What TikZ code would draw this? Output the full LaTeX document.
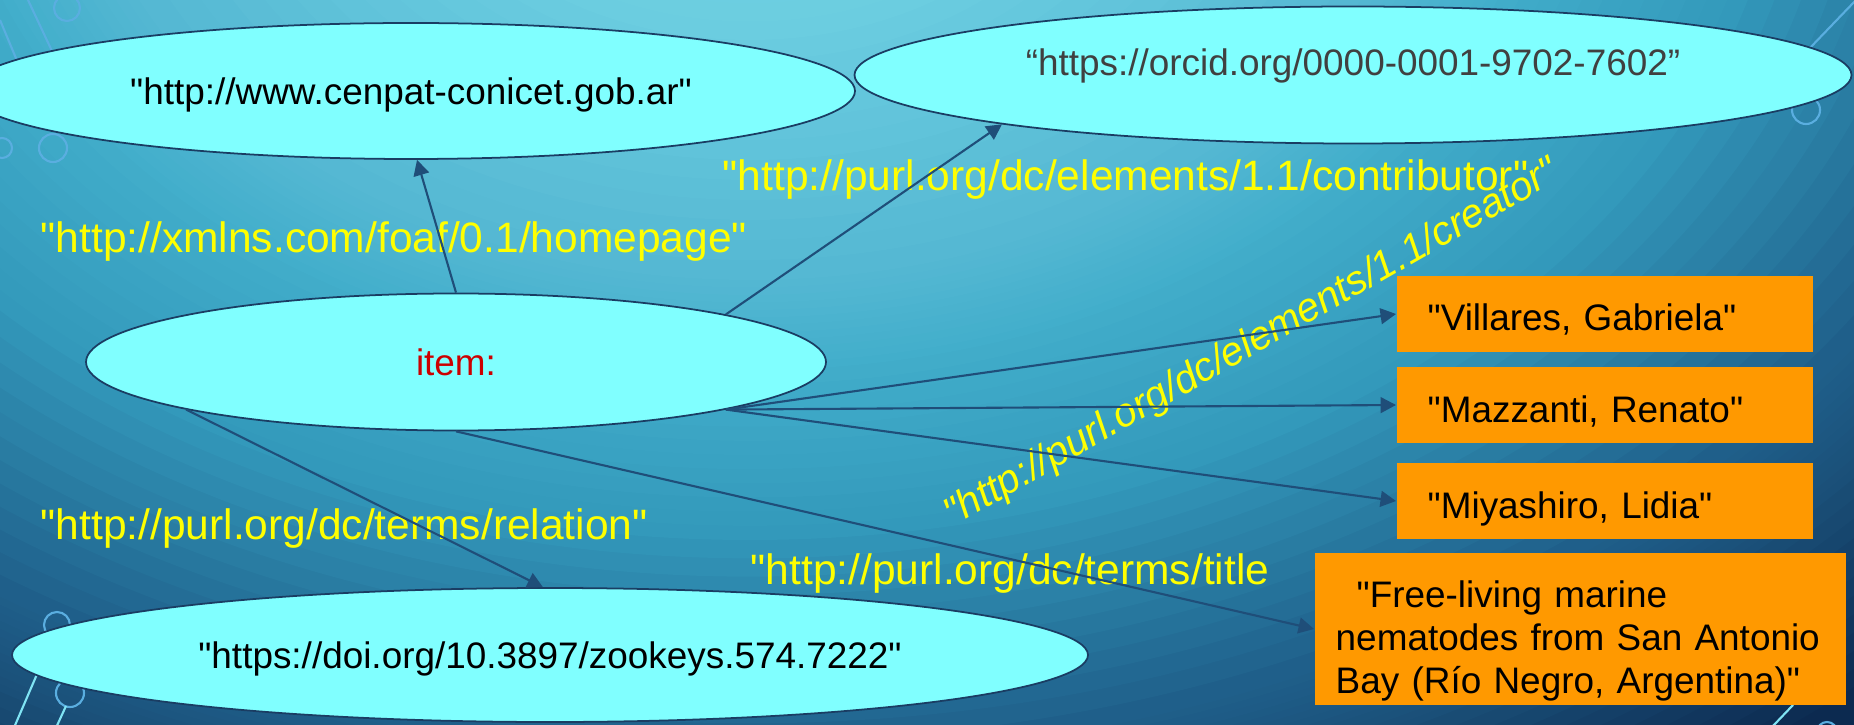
\documentclass[tikz,border=0pt]{standalone}
\usepackage{fontspec}
\setmainfont{Liberation Sans}[Ligatures=TeXOff]
\usepackage{xcolor}
\usetikzlibrary{arrows.meta,shapes.geometric}

\definecolor{nodecyan}{HTML}{80FFFF}
\definecolor{nodeorange}{HTML}{FF9900}
\definecolor{edgeblue}{HTML}{1F4E79}
\definecolor{rimblue}{HTML}{1A3D63}
\definecolor{predyellow}{HTML}{FFFF00}
\definecolor{itemred}{HTML}{CC0000}
\definecolor{orcidgray}{HTML}{404040}
\definecolor{traceblue}{HTML}{5AAEE0}
\definecolor{tracecyan}{HTML}{80E4F4}
\definecolor{bgA}{HTML}{74D4E5}
\definecolor{bgB}{HTML}{6BCDE0}
\definecolor{bgC}{HTML}{55B8D3}
\definecolor{bgD}{HTML}{42AECB}
\definecolor{bgE}{HTML}{3399BB}
\definecolor{bgF}{HTML}{1F5F8A}
\definecolor{bgG}{HTML}{1A4F78}
\definecolor{bgH}{HTML}{0C2A50}

\newcommand{\litfont}{\fontsize{10.5}{12.2}\selectfont}
\newcommand{\predfont}{\fontsize{12.1}{14}\selectfont}

\begin{document}
\begin{tikzpicture}[
    cls/.style={ellipse, draw=rimblue, line width=0.5pt, fill=nodecyan, inner sep=0pt, text height=0.31cm, text depth=0.04cm, font=\litfont},
    lit/.style={rectangle, fill=nodeorange, inner xsep=0.31cm, inner ysep=0pt, minimum height=0.76cm, text width=3.54cm, align=left, anchor=west, font=\litfont},
    namebox/.style={lit, text height=0.37cm, text depth=0.03cm},
    pred/.style={text=predyellow, font=\predfont, inner sep=0pt, anchor=base west},
    rel/.style={draw=edgeblue, line width=0.6pt, -{Triangle[length=4.4pt,width=4.5pt]}},
    trace/.style={draw=traceblue, line width=0.6pt}
  ]
            \useasboundingbox (0,0) rectangle (18.54,-7.25);

            % Slide background: glow from the top, darker towards the lower corners
            \begin{scope}
                \clip (0,0) rectangle (18.54,-7.25);
                \fill[bgH] (0,0) rectangle (18.54,-7.25);
                \foreach \ca/\cb/\ra/\rb in {bgH/bgG/1.20/1.04, bgG/bgF/1.04/0.96, bgF/bgE/0.96/0.74,
                                             bgE/bgD/0.74/0.57, bgD/bgC/0.57/0.48, bgC/bgB/0.48/0.24, bgB/bgA/0.24/0.02}
                    \foreach \k in {0,...,11} {
                        \pgfmathsetmacro{\rr}{\ra+(\rb-\ra)*\k/12}
                        \pgfmathtruncatemacro{\pp}{100*\k/12}
                        \fill[\cb!\pp!\ca] (7.5,2.0) ellipse [x radius={14*\rr}, y radius={10*\rr}];
                    }
            \end{scope}

            % Circuit traces
            \draw[trace] (0,-0.20) -- (0.46,-1.30);
            \draw[trace] (0.28,0) -- (0.75,-1.0);
            \draw[trace] (0.67,-0.08) circle (0.13);
            \draw[trace] (0.53,-1.48) circle (0.14);
            \draw[trace] (0.02,-1.48) circle (0.10);
            \draw[trace] (0.57,-6.25) circle (0.13);
            \draw[trace] (0.70,-6.93) circle (0.14);
            \draw[trace, tracecyan] (0.53,-6.37) -- (0.13,-7.30);
            \draw[trace, tracecyan] (0.66,-7.06) -- (0.55,-7.30);
            \draw[trace] (18.56,0) -- (18.08,-0.50);
            \draw[trace] (18.06,-1.10) circle (0.14);
            \draw[trace, tracecyan] (17.93,-7.05) -- (17.72,-7.27);
            \draw[trace] (18.27,-7.32) circle (0.10);

            % Resources
            \node[cls, minimum width=8.88cm, minimum height=1.36cm] (cenpat) at (4.11,-0.91) {"http://www.cenpat-conicet.gob.ar"};
            \node[cls, minimum width=9.97cm, minimum height=1.37cm, text=orcidgray, text height=0.17cm, text depth=0.15cm] (orcid) at (13.53,-0.75) {“https://orcid.org/0000-0001-9702-7602”};
            \node[cls, minimum width=7.40cm, minimum height=1.37cm, text=itemred] (item) at (4.56,-3.62) {item:};
            \node[cls, minimum width=10.76cm, minimum height=1.34cm] (doi) at (5.50,-6.55) {"https://doi.org/10.3897/zookeys.574.7222"};

            % Literals
            \node[namebox] (villares) at (13.96,-3.14) {"Villares, Gabriela"};
            \node[namebox] (mazzanti) at (13.96,-4.05) {"Mazzanti, Renato"};
            \node[namebox] (miyashiro) at (13.96,-5.01) {"Miyashiro, Lidia"};
            \node[lit, minimum height=1.52cm, text width=4.89cm, inner xsep=0.21cm] (title) at (13.14,-6.29)
                {\rule{0pt}{0.50cm}\hspace*{0.21cm}"Free-living marine\\nematodes from San Antonio\\Bay (Río Negro, Argentina)"};

            % Property names
            \node[pred] (phome) at (0.40,-2.53) {"http://xmlns.com/foaf/0.1/homepage"};
            \node[pred] (pcontrib) at (7.22,-1.91) {"http://purl.org/dc/elements/1.1/contributor"};
            \node[pred] (prelation) at (0.40,-5.39) {"http://purl.org/dc/terms/relation"};
            \node[pred] (ptitle) at (7.50,-5.84) {"http://purl.org/dc/terms/title};
            \node[pred, anchor=center, rotate=29.8, font=\fontsize{11.5}{13}\selectfont\itshape] (pcreator) at (12.52,-3.44) {"http://purl.org/dc/elements/1.1/creator"};

            % Triples
            \draw[rel] (item.north) -- (cenpat.275);
            \draw[rel] (item.10) -- (orcid.188);
            \draw[rel] (item.-10) -- (villares.west);
            \draw[rel] (item.-10) -- (mazzanti.west);
            \draw[rel] (item.-10) -- (miyashiro.west);
            \draw[rel] (item.south) -- (title.west);
            \draw[rel] (item.190) -- (doi.96);
\end{tikzpicture}
\end{document}
